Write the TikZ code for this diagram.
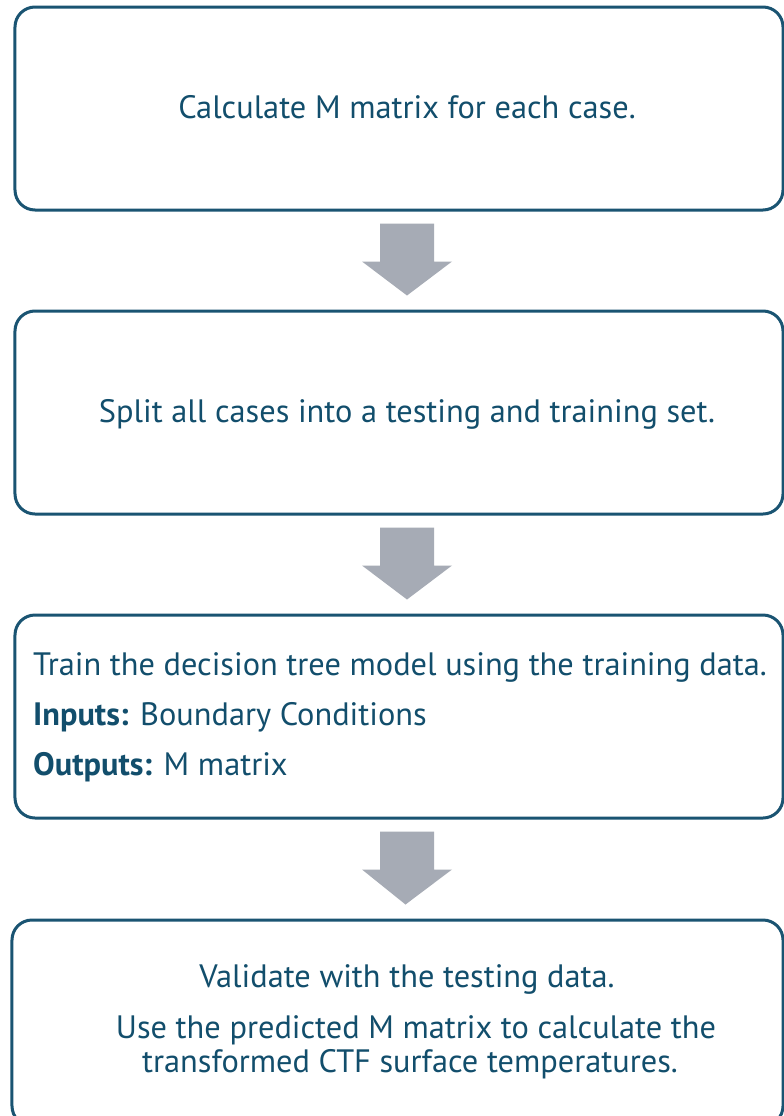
\documentclass[tikz,border=0pt]{standalone}
\usepackage{fontspec}
\setmainfont{PT Sans}
\usetikzlibrary{calc}
\definecolor{boxblue}{HTML}{1A5472}
\definecolor{textblue}{HTML}{124E6C}
\definecolor{arrowgray}{HTML}{A6ABB5}
\begin{document}
\begin{tikzpicture}[x=1bp,y=-1bp,
  box/.style={draw=boxblue, line width=3bp, rounded corners=20bp, fill=white, inner sep=0pt, minimum width=768bp, minimum height=203bp},
  txt/.style={text=textblue, font=\fontsize{32.5}{38}\selectfont, inner sep=0pt},
  blockarrow/.style={fill=arrowgray}]
\useasboundingbox (0,0) rectangle (784,1116);
\clip (0,0) rectangle (784,1116);
\fill[white] (0,0) rectangle (784,1116);
% boxes
\node[box] (b1) at (399,108.5) {};
\node[box] (b2) at (399,412.5) {};
\node[box] (b3) at (399,716.5) {};
\node[box, minimum width=771bp, minimum height=206bp] (b4) at (397.5,1023) {};
% texts
\node[txt, anchor=base] (t1) at (407,118) {Calculate M matrix for each case.};
\node[txt, anchor=base] (t2) at (407,422) {Split all cases into a testing and training set.};
\node[txt, anchor=base west] (t3a) at (33,675) {Train the decision tree model using the training data.};
\node[txt, anchor=base west] (t3b) at (33,725) {\textbf{Inputs:} Boundary Conditions};
\node[txt, anchor=base west] (t3c) at (33,775) {\textbf{Outputs:} M matrix};
\node[txt, anchor=base] (t4a) at (407,987) {Validate with the testing data.};
\node[txt, anchor=base] (t4b) at (416,1038) {Use the predicted M matrix to calculate the};
\node[txt, anchor=base] (t4c) at (410,1072) {transformed CTF surface temperatures.};
% block arrows between boxes
\foreach \a/\b in {b1/b2, b2/b3, b3/b4}{
  \fill[blockarrow]
    ($(\a.south)+(-19,12)$) -- ($(\a.south)+(35,12)$) -- ($(\a.south)+(35,50)$) --
    ($(\a.south)+(53,50)$) -- ($(\b.north)+(8,-14)$) -- ($(\a.south)+(-37,50)$) --
    ($(\a.south)+(-19,50)$) -- cycle;
}
\end{tikzpicture}
\end{document}
